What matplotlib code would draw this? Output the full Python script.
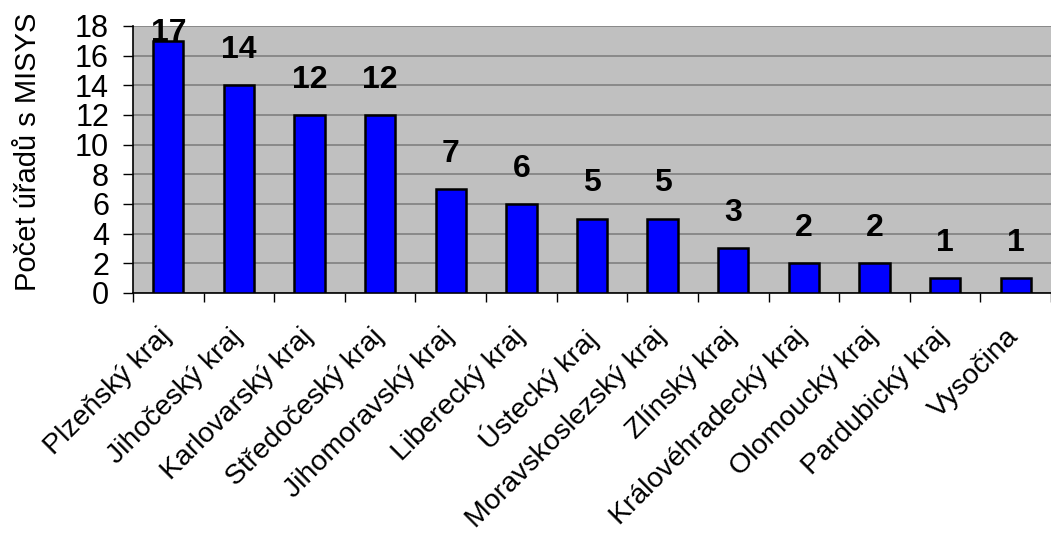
import numpy as np
import matplotlib
matplotlib.use('Agg')
import matplotlib.pyplot as plt
import matplotlib.transforms as mtransforms

plt.rcParams['font.family'] = ['Liberation Sans', 'DejaVu Sans']

kraje = ['Plzeňský kraj', 'Jihočeský kraj', 'Karlovarský kraj', 'Středočeský kraj',
         'Jihomoravský kraj', 'Liberecký kraj', 'Ústecký kraj', 'Moravskoslezský kraj',
         'Zlínský kraj', 'Královéhradecký kraj', 'Olomoucký kraj', 'Pardubický kraj',
         'Vysočina']
pocty = [17, 14, 12, 12, 7, 6, 5, 5, 3, 2, 2, 1, 1]
y_ticks = np.arange(0, 19, 2)

fig = plt.figure(figsize=(10.51, 5.38), dpi=100)
ax = fig.add_axes([0.1265, 0.4554, 0.8735, 0.4963])
ax.set_facecolor('#C0C0C0')

x = np.arange(len(kraje))
ax.bar(x, pocty, width=0.43, color='#0000FF', edgecolor='black', linewidth=1.8, zorder=3)

# value labels, kept inside the chart like Excel does
for xi, v in zip(x, pocty):
    ax.text(xi, min(v + 1.85, 17.0), str(v), ha='center', va='baseline',
            fontsize=23, fontweight='bold', clip_on=False, zorder=4)

ax.set_xlim(-0.5, len(kraje) - 0.5)
ax.set_ylim(0, 18)
ax.set_yticks(y_ticks)
ax.yaxis.grid(True, color='#808080', linewidth=1.2, zorder=0)
ax.tick_params(axis='y', labelsize=22, length=7.2, width=1, pad=10)

ax.set_xticks(x)
ax.set_xticklabels(kraje, rotation=45, ha='right', va='top', rotation_mode='anchor', fontsize=20.5)
ax.tick_params(axis='x', which='major', length=0, pad=12)
ax.set_xticks(np.arange(-0.5, len(kraje), 1), minor=True)
ax.tick_params(axis='x', which='minor', length=6.5, width=1)
shift = mtransforms.ScaledTranslation(-0.10, -0.14, fig.dpi_scale_trans)
for lab in ax.get_xticklabels():
    lab.set_transform(lab.get_transform() + shift)

for s in ['top', 'right']:
    ax.spines[s].set_visible(False)
ax.spines['left'].set_linewidth(1.2)
ax.spines['bottom'].set_linewidth(1.2)

fig.text(14 / 1051, 1 - 152 / 538, 'Počet úřadů s MISYS', rotation=90,
         ha='left', va='center', fontsize=21)

fig.savefig('out.png', dpi=100)
